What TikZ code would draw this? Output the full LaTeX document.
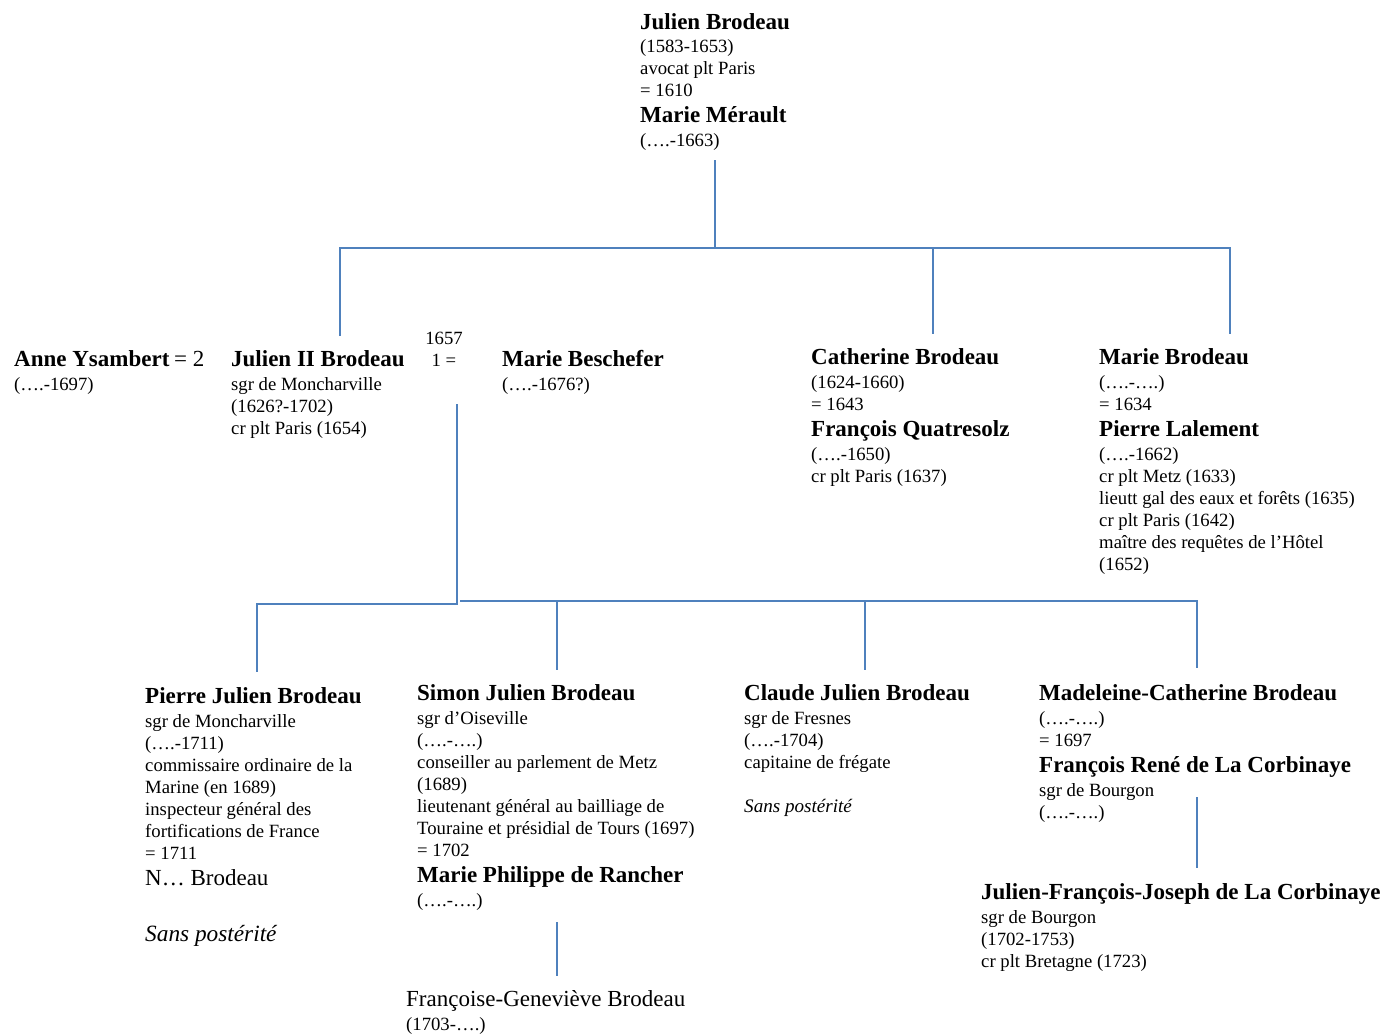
\documentclass[tikz,border=0pt]{standalone}
\usepackage{fontspec}
\setmainfont{Liberation Serif}
\usepackage{tikz}
\usetikzlibrary{positioning}
\definecolor{treeblue}{RGB}{79,129,189}
\newcommand{\bname}[1]{{\fontsize{23}{22}\selectfont\bfseries #1}}
\newcommand{\bigtext}[1]{{\fontsize{23}{22}\selectfont #1}}
\newcommand{\nopost}[1]{{\fontsize{#1}{22}\selectfont\itshape Sans postérité}}

\begin{document}
\begin{tikzpicture}[x=1pt, y=-1pt,
    person/.style={anchor=north west, align=left, inner sep=0pt,
      font=\fontsize{18.7}{22}\selectfont},
    link/.style={draw=treeblue, line width=2.5pt}]
    \useasboundingbox (0,0) rectangle (1382,1034);

    % First generation
    \node[person] (top) at (640,13) {\bname{Julien Brodeau}\\[1pt](1583-1653)\\avocat plt Paris\\= 1610\\[4pt]
      \bname{Marie Mérault}\\[2pt](….-1663)};

    % Children
    \node[person] (anne) at (14,350) {\bname{Anne Ysambert} \bigtext{= 2}\\[2pt](….-1697)};
    \node[person] (julien) at (231,350) {\bname{Julien II Brodeau}\\[2pt]sgr de Moncharville\\(1626?-1702)\\cr plt Paris (1654)};
    \node[person, anchor=north, align=center] (wed) at (444,332) {1657\\1 =};
    \node[person] (besch) at (502,350) {\bname{Marie Beschefer}\\[2pt](….-1676?)};
    \node[person] (cath) at (811,348) {\bname{Catherine Brodeau}\\[2pt](1624-1660)\\= 1643\\[4pt]
      \bname{François Quatresolz}\\[2pt](….-1650)\\cr plt Paris (1637)};
    \node[person] (marie) at (1099,348) {\bname{Marie Brodeau}\\[2pt](….-….)\\= 1634\\[4pt]
      \bname{Pierre Lalement}\\[2pt](….-1662)\\cr plt Metz (1633)\\lieutt gal des eaux et forêts (1635)\\
      cr plt Paris (1642)\\maître des requêtes de l’Hôtel\\(1652)};

    % Grandchildren
    \node[person] (pierre) at (145,687) {\bname{Pierre Julien Brodeau}\\[2pt]sgr de Moncharville\\(….-1711)\\
      commissaire ordinaire de la\\Marine (en 1689)\\inspecteur général des\\fortifications de France\\= 1711\\[4pt]
      \bigtext{N… Brodeau}\\[34pt]\nopost{23.3}};
    \node[person] (simon) at (417,684) {\bname{Simon Julien Brodeau}\\[2pt]sgr d’Oiseville\\(….-….)\\
      conseiller au parlement de Metz\\(1689)\\lieutenant général au bailliage de\\Touraine et présidial de Tours (1697)\\
      = 1702\\[4pt]\bname{Marie Philippe de Rancher}\\[2pt](….-….)};
    \node[person] (claude) at (744,684) {\bname{Claude Julien Brodeau}\\[2pt]sgr de Fresnes\\(….-1704)\\capitaine de frégate\\[22pt]
      \nopost{19.1}};
    \node[person] (madel) at (1039,684) {\bname{Madeleine-Catherine Brodeau}\\[2pt](….-….)\\= 1697\\[4pt]
      \bname{François René de La Corbinaye}\\[2pt]sgr de Bourgon\\(….-….)};

    % Great-grandchildren
    \node[person] (jfj) at (981,883) {\bname{Julien-François-Joseph de La Corbinaye}\\[2pt]sgr de Bourgon\\(1702-1753)\\
      cr plt Bretagne (1723)};
    \node[person] (fg) at (406,990) {\bigtext{Françoise-Geneviève Brodeau}\\[2pt](1703-….)};

    % Junctions
    \coordinate (hub) at (715,248);
    \coordinate (barL) at (340,248);
    \coordinate (barR) at (1230,248);
    \coordinate (dJ) at (340,336);
    \coordinate (dC) at (933,334);
    \coordinate (dM) at (1230,334);
    \coordinate (m1) at (457,404);
    \coordinate (k0) at (457,604);
    \coordinate (kbar) at (460,601);
    \coordinate (k1) at (257,672);
    \coordinate (k2) at (557,670);
    \coordinate (k3) at (865,670);
    \coordinate (k4) at (1197,668);
    \coordinate (g1) at (1197,797);
    \coordinate (g2) at (1197,868);
    \coordinate (s1) at (557,922);
    \coordinate (s2) at (557,976);

    % Lines
    \draw[link] ([yshift=-10pt]top.south -| hub) -- (hub);
    \draw[link] (dJ) -- (barL) -- (barR) -- (dM);
    \draw[link] (dC |- hub) -- (dC);
    \draw[link] (m1) -- (k0) -| (k1);
    \draw[link] (kbar) -| (k4);
    \draw[link] (k2 |- kbar) -- (k2);
    \draw[link] (k3 |- kbar) -- (k3);
    \draw[link] (g1) -- (g2);
    \draw[link] (s1) -- (s2);
  \end{tikzpicture}
\end{document}
